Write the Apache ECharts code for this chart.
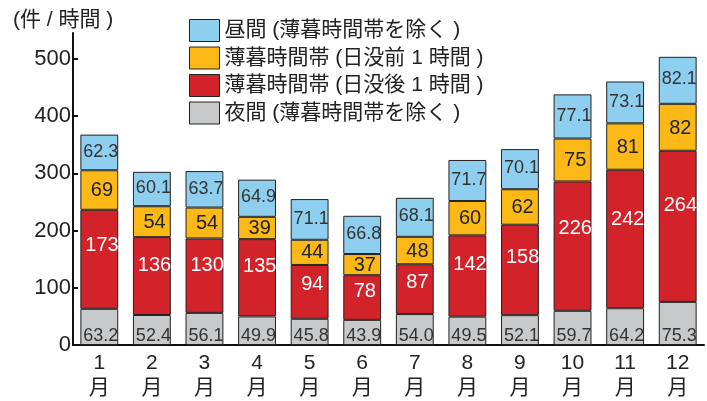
<!DOCTYPE html>
<html><head><meta charset="utf-8">
<script src="https://cdn.jsdelivr.net/npm/echarts@6/dist/echarts.min.js"></script>
<style>html,body{margin:0;padding:0;background:#fff}#c{width:707px;height:401px}</style>
</head><body><div id="c"></div>
<script>
const months = ['1\n月','2\n月','3\n月','4\n月','5\n月','6\n月','7\n月','8\n月','9\n月','10\n月','11\n月','12\n月'];
const night = [63.2,52.4,56.1,49.9,45.8,43.9,54.0,49.5,52.1,59.7,64.2,75.3];
const duskAfter = [173,136,130,135,94,78,87,142,158,226,242,264];
const duskBefore = [69,54,54,39,44,37,48,60,62,75,81,82];
const day = [62.3,60.1,63.7,64.9,71.1,66.8,68.1,71.7,70.1,77.1,73.1,82.1];
const yTicks = [0,100,200,300,400,500];
const names = ['昼間 (薄暮時間帯を除く )','薄暮時間帯 (日没前 1 時間 )','薄暮時間帯 (日没後 1 時間 )','夜間 (薄暮時間帯を除く )'];

const numFont = '"Liberation Sans",Arial,sans-serif';
const cjkFont = '"Liberation Sans","Noto Sans CJK JP",sans-serif';
const border = {borderColor:'#222', borderWidth:1};

function fmt(decimals){return p => decimals ? p.value.toFixed(1) : String(p.value);}

const chart = echarts.init(document.getElementById('c'), null, {renderer:'canvas'});
chart.setOption({
  animation:false,
  backgroundColor:'#fff',
  title:{text:'(件 / 時間 )', left:8, top:5, textStyle:{fontFamily:cjkFont, fontSize:21, fontWeight:'normal', color:'#222'}},
  legend:{
    orient:'vertical', left:184, top:14, itemWidth:30, itemHeight:22, itemGap:4.5, icon:'rect',
    data:names,
    textStyle:{fontFamily:cjkFont, fontSize:21, lineHeight:22, color:'#222'},
    itemStyle:{borderColor:'#222', borderWidth:1}
  },
  grid:{left:73, right:3, top:33, bottom:54},
  xAxis:{
    type:'category', data:months,
    axisLine:{lineStyle:{color:'#111', width:2}},
    axisTick:{show:false},
    axisLabel:{fontFamily:cjkFont, fontSize:21, color:'#222', lineHeight:25, margin:6}
  },
  yAxis:{
    type:'value', min:0, max:545, interval:100,
    axisLine:{show:true, lineStyle:{color:'#111', width:2}},
    axisTick:{show:true, inside:true, length:5, lineStyle:{color:'#111', width:2}},
    splitLine:{show:false},
    axisLabel:{showMaxLabel:false, fontFamily:numFont, fontSize:22, color:'#222', margin:2,
      formatter: v => yTicks.includes(v) ? String(v) : ''}
  },
  series:[
    {name:names[3], type:'bar', stack:'a', data:night, barCategoryGap:'28%',
     itemStyle:Object.assign({color:'#C8C9CB'}, border),
     label:{show:true, position:['54%','100%'], align:'center', verticalAlign:'bottom', formatter:fmt(1), fontFamily:numFont, fontSize:18, color:'#333'}},
    {name:names[2], type:'bar', stack:'a', data:duskAfter,
     itemStyle:Object.assign({color:'#D2232A'}, border),
     label:{show:true, position:['57%','36%'], align:'center', verticalAlign:'middle', formatter:fmt(0), fontFamily:numFont, fontSize:20, color:'#fff'}},
    {name:names[1], type:'bar', stack:'a', data:duskBefore,
     itemStyle:Object.assign({color:'#FBB817'}, border),
     label:{show:true, position:['57%','52%'], align:'center', verticalAlign:'middle', formatter:fmt(0), fontFamily:numFont, fontSize:20, color:'#222'}},
    {name:names[0], type:'bar', stack:'a', data:day,
     itemStyle:Object.assign({color:'#8ECFF0'}, border),
     label:{show:true, position:['54%','48%'], align:'center', verticalAlign:'middle', formatter:fmt(1), fontFamily:numFont, fontSize:18, color:'#333'}}
  ]
});
</script></body></html>
